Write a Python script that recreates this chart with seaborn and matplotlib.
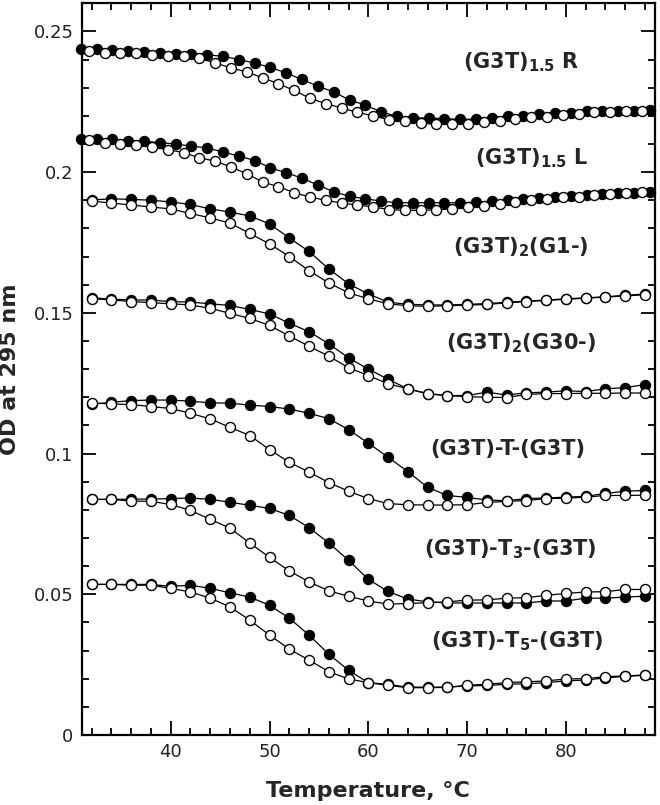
import numpy as np
import pandas as pd
import matplotlib
matplotlib.use('Agg')
import matplotlib.pyplot as plt
import seaborn as sns
from matplotlib.ticker import MultipleLocator

# 온도 (R, L 곡선은 더 촘촘하게 측정됨)
t_fine_filled = [30.9, 32.5, 34.1, 35.7, 37.3, 38.9, 40.5, 42.1, 43.7, 45.3, 46.9, 48.5,
                 50.1, 51.7, 53.3, 54.9, 56.5, 58.1, 59.7, 61.3, 62.9, 64.5, 66.1, 67.7,
                 69.3, 70.9, 72.5, 74.1, 75.7, 77.3, 78.9, 80.5, 82.1, 83.7, 85.3, 86.9, 88.5]
t_fine_open = [31.7, 33.3, 34.9, 36.5, 38.1, 39.7, 41.3, 42.9, 44.5, 46.1, 47.7, 49.3,
               50.9, 52.5, 54.1, 55.7, 57.3, 58.9, 60.5, 62.1, 63.7, 65.3, 66.9, 68.5,
               70.1, 71.7, 73.3, 74.9, 76.5, 78.1, 79.7, 81.3, 82.9, 84.5, 86.1, 87.7]
t_even = [32, 34, 36, 38, 40, 42, 44, 46, 48, 50, 52, 54, 56, 58, 60,
          62, 64, 66, 68, 70, 72, 74, 76, 78, 80, 82, 84, 86, 88]

# (G3T)1.5 R
r_filled = [0.2436, 0.2436, 0.2433, 0.2430, 0.2427, 0.2423, 0.2421, 0.2420, 0.2417, 0.2411,
            0.2400, 0.2387, 0.2372, 0.2352, 0.2329, 0.2305, 0.2285, 0.2256, 0.2238, 0.2214,
            0.2198, 0.2193, 0.2192, 0.2190, 0.2187, 0.2188, 0.2193, 0.2199, 0.2200, 0.2206,
            0.2210, 0.2211, 0.2216, 0.2218, 0.2218, 0.2218, 0.2220]
r_open = [0.2432, 0.2424, 0.2423, 0.2423, 0.2417, 0.2411, 0.2411, 0.2405, 0.2388, 0.2370,
          0.2356, 0.2335, 0.2314, 0.2290, 0.2262, 0.2243, 0.2228, 0.2212, 0.2200, 0.2186,
          0.2180, 0.2174, 0.2170, 0.2170, 0.2172, 0.2177, 0.2183, 0.2188, 0.2194, 0.2197,
          0.2203, 0.2208, 0.2212, 0.2215, 0.2216, 0.2216]

# (G3T)1.5 L
l_filled = [0.2116, 0.2119, 0.2116, 0.2110, 0.2110, 0.2104, 0.2100, 0.2092, 0.2086, 0.2071,
            0.2057, 0.2041, 0.2015, 0.1998, 0.1978, 0.1954, 0.1930, 0.1914, 0.1905, 0.1897,
            0.1891, 0.1891, 0.1891, 0.1891, 0.1891, 0.1893, 0.1897, 0.1900, 0.1905, 0.1909,
            0.1912, 0.1915, 0.1918, 0.1921, 0.1924, 0.1927, 0.1930]
l_open = [0.2113, 0.2104, 0.2100, 0.2096, 0.2089, 0.2080, 0.2069, 0.2051, 0.2039, 0.2018,
          0.1994, 0.1965, 0.1948, 0.1927, 0.1911, 0.1900, 0.1890, 0.1883, 0.1876, 0.1867,
          0.1864, 0.1864, 0.1866, 0.1869, 0.1875, 0.1881, 0.1887, 0.1893, 0.1900, 0.1906,
          0.1910, 0.1913, 0.1918, 0.1922, 0.1925, 0.1928]

# (G3T)2(G1-)
g1_filled = [0.1901, 0.1905, 0.1903, 0.1900, 0.1894, 0.1885, 0.1869, 0.1858, 0.1844, 0.1816,
             0.1766, 0.1718, 0.1656, 0.1603, 0.1567, 0.1538, 0.1530, 0.1528, 0.1528, 0.1530,
             0.1533, 0.1537, 0.1542, 0.1545, 0.1550, 0.1553, 0.1557, 0.1562, 0.1567]
g1_open = [0.1897, 0.1890, 0.1883, 0.1876, 0.1869, 0.1853, 0.1837, 0.1819, 0.1782, 0.1745,
           0.1700, 0.1650, 0.1606, 0.1571, 0.1550, 0.1532, 0.1525, 0.1523, 0.1525, 0.1527,
           0.1530, 0.1535, 0.1540, 0.1544, 0.1548, 0.1552, 0.1556, 0.1560, 0.1564]

# (G3T)2(G30-)
g30_filled = [0.1554, 0.1548, 0.1546, 0.1545, 0.1540, 0.1538, 0.1532, 0.1526, 0.1512, 0.1496,
              0.1463, 0.1433, 0.1390, 0.1340, 0.1300, 0.1264, 0.1230, 0.1213, 0.1206, 0.1206,
              0.1218, 0.1208, 0.1216, 0.1218, 0.1223, 0.1220, 0.1230, 0.1234, 0.1245]
g30_open = [0.1550, 0.1546, 0.1540, 0.1536, 0.1532, 0.1528, 0.1516, 0.1498, 0.1480, 0.1455,
            0.1418, 0.1381, 0.1346, 0.1305, 0.1277, 0.1248, 0.1230, 0.1212, 0.1206, 0.1202,
            0.1200, 0.1199, 0.1210, 0.1213, 0.1213, 0.1214, 0.1214, 0.1215, 0.1215]

# (G3T)-T-(G3T)
t1_filled = [0.1175, 0.1182, 0.1188, 0.1190, 0.1190, 0.1186, 0.1180, 0.1179, 0.1172, 0.1167,
             0.1158, 0.1143, 0.1124, 0.1085, 0.1037, 0.0987, 0.0936, 0.0880, 0.0851, 0.0844,
             0.0835, 0.0832, 0.0840, 0.0842, 0.0845, 0.0848, 0.0858, 0.0866, 0.0869]
t1_open = [0.1180, 0.1176, 0.1174, 0.1167, 0.1160, 0.1143, 0.1123, 0.1093, 0.1064, 0.1014,
           0.0969, 0.0934, 0.0897, 0.0866, 0.0840, 0.0822, 0.0818, 0.0817, 0.0817, 0.0818,
           0.0826, 0.0830, 0.0833, 0.0840, 0.0841, 0.0845, 0.0851, 0.0851, 0.0852]

# (G3T)-T3-(G3T)
t3_filled = [0.0837, 0.0837, 0.0838, 0.0838, 0.0840, 0.0842, 0.0837, 0.0827, 0.0816, 0.0805,
             0.0780, 0.0737, 0.0682, 0.0621, 0.0553, 0.0510, 0.0483, 0.0473, 0.0469, 0.0469,
             0.0469, 0.0469, 0.0469, 0.0476, 0.0476, 0.0486, 0.0486, 0.0490, 0.0493]
t3_open = [0.0837, 0.0837, 0.0831, 0.0830, 0.0819, 0.0798, 0.0766, 0.0735, 0.0682, 0.0631,
           0.0583, 0.0544, 0.0512, 0.0493, 0.0476, 0.0465, 0.0467, 0.0470, 0.0473, 0.0479,
           0.0480, 0.0486, 0.0488, 0.0496, 0.0503, 0.0508, 0.0509, 0.0517, 0.0517]

# (G3T)-T5-(G3T)
t5_filled = [0.0535, 0.0535, 0.0535, 0.0535, 0.0528, 0.0532, 0.0521, 0.0505, 0.0490, 0.0461,
             0.0415, 0.0355, 0.0287, 0.0230, 0.0186, 0.0180, 0.0170, 0.0170, 0.0170, 0.0174,
             0.0176, 0.0180, 0.0182, 0.0186, 0.0192, 0.0195, 0.0203, 0.0208, 0.0212]
t5_open = [0.0535, 0.0535, 0.0532, 0.0532, 0.0521, 0.0508, 0.0486, 0.0455, 0.0408, 0.0355,
           0.0305, 0.0266, 0.0225, 0.0199, 0.0186, 0.0176, 0.0168, 0.0168, 0.0169, 0.0177,
           0.0180, 0.0186, 0.0189, 0.0192, 0.0199, 0.0200, 0.0207, 0.0210, 0.0213]

labels = [r"(G3T)$_{1.5}$ R", r"(G3T)$_{1.5}$ L", r"(G3T)$_2$(G1-)", r"(G3T)$_2$(G30-)",
          "(G3T)-T-(G3T)", r"(G3T)-T$_3$-(G3T)", r"(G3T)-T$_5$-(G3T)"]
label_x = [69.6, 70.8, 68.6, 67.9, 66.3, 65.6, 66.4]
label_y = [0.2369, 0.2028, 0.1711, 0.1369, 0.0993, 0.0638, 0.0312]

curves = [(t_fine_filled, r_filled, t_fine_open, r_open),
          (t_fine_filled, l_filled, t_fine_open, l_open),
          (t_even, g1_filled, t_even, g1_open),
          (t_even, g30_filled, t_even, g30_open),
          (t_even, t1_filled, t_even, t1_open),
          (t_even, t3_filled, t_even, t3_open),
          (t_even, t5_filled, t_even, t5_open)]

sns.set_style('ticks')
plt.rcParams['font.family'] = ['DejaVu Sans']
plt.rcParams['mathtext.fontset'] = 'custom'
plt.rcParams['mathtext.rm'] = 'DejaVu Sans:bold'
plt.rcParams['mathtext.default'] = 'rm'

fig = plt.figure(figsize=(6.6, 8.05), dpi=100)
ax = fig.add_axes([0.124, 0.087, 0.868, 0.909])

mk = dict(marker='o', markersize=7.2, markeredgewidth=1.0, markeredgecolor='black',
          color='black', linewidth=0.9, clip_on=False, sort=False)
for tf, yf, to, yo in curves:
    sns.lineplot(x=tf, y=yf, ax=ax, markerfacecolor='black', **mk)
    sns.lineplot(x=to, y=yo, ax=ax, markerfacecolor='white', **mk)

for lab, lx, ly in zip(labels, label_x, label_y):
    ax.text(lx, ly, lab, fontsize=15, fontweight='bold', ha='left', va='baseline')

ax.set_xlim(31, 89)
ax.set_ylim(0, 0.26)
ax.xaxis.set_major_locator(MultipleLocator(10))
ax.xaxis.set_minor_locator(MultipleLocator(2))
ax.yaxis.set_major_locator(MultipleLocator(0.05))
ax.yaxis.set_minor_locator(MultipleLocator(0.01))
ax.set_yticks([0, 0.05, 0.1, 0.15, 0.2, 0.25])
ax.set_yticklabels(['0', '0.05', '0.1', '0.15', '0.2', '0.25'])
ax.tick_params(which='both', direction='in', top=True, right=True, width=1.3, color='black')
ax.tick_params(which='major', length=10, labelsize=13, labelcolor='#222222', pad=6)
ax.tick_params(which='minor', length=5)
for s in ax.spines.values():
    s.set_linewidth(1.6)
    s.set_color('black')

ax.set_xlabel('Temperature, °C', fontsize=16, fontweight='bold', labelpad=14)
ax.set_ylabel('OD at 295 nm', fontsize=16, fontweight='bold', labelpad=10)

fig.savefig('out.png', dpi=100)
